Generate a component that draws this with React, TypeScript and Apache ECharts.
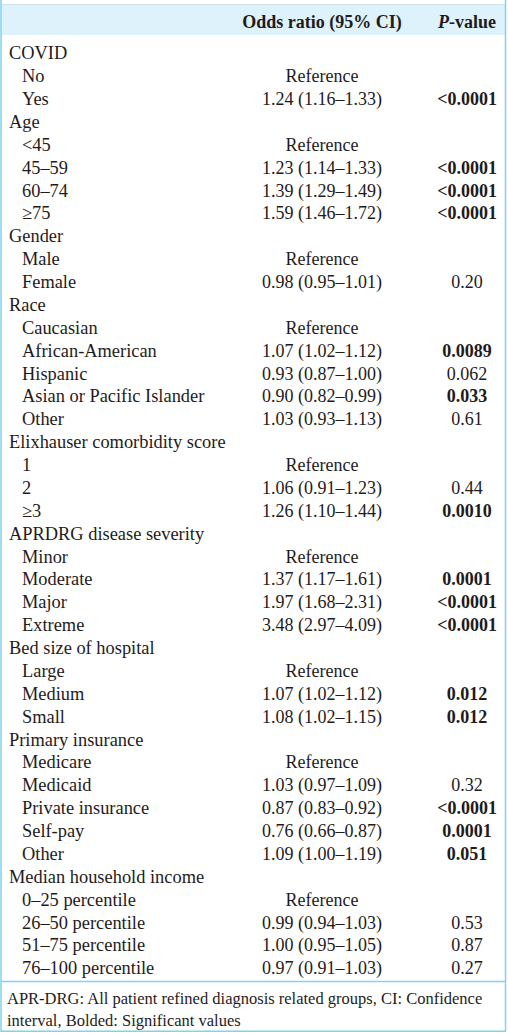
import React, { useEffect, useRef } from "react";
import * as echarts from "echarts";

const groups = [
  "COVID",
  "Age",
  "Gender",
  "Race",
  "Elixhauser comorbidity score",
  "APRDRG disease severity",
  "Bed size of hospital",
  "Primary insurance",
  "Median household income",
];

const levels = [
  ["No", "Yes"],
  ["<45", "45–59", "60–74", "≥75"],
  ["Male", "Female"],
  ["Caucasian", "African-American", "Hispanic", "Asian or Pacific Islander", "Other"],
  ["1", "2", "≥3"],
  ["Minor", "Moderate", "Major", "Extreme"],
  ["Large", "Medium", "Small"],
  ["Medicare", "Medicaid", "Private insurance", "Self-pay", "Other"],
  ["0–25 percentile", "26–50 percentile", "51–75 percentile", "76–100 percentile"],
];

const oddsRatios = [
  [null, 1.24],
  [null, 1.23, 1.39, 1.59],
  [null, 0.98],
  [null, 1.07, 0.93, 0.9, 1.03],
  [null, 1.06, 1.26],
  [null, 1.37, 1.97, 3.48],
  [null, 1.07, 1.08],
  [null, 1.03, 0.87, 0.76, 1.09],
  [null, 0.99, 1.0, 0.97],
];

const ciLower = [
  [null, 1.16],
  [null, 1.14, 1.29, 1.46],
  [null, 0.95],
  [null, 1.02, 0.87, 0.82, 0.93],
  [null, 0.91, 1.1],
  [null, 1.17, 1.68, 2.97],
  [null, 1.02, 1.02],
  [null, 0.97, 0.83, 0.66, 1.0],
  [null, 0.94, 0.95, 0.91],
];

const ciUpper = [
  [null, 1.33],
  [null, 1.33, 1.49, 1.72],
  [null, 1.01],
  [null, 1.12, 1.0, 0.99, 1.13],
  [null, 1.23, 1.44],
  [null, 1.61, 2.31, 4.09],
  [null, 1.12, 1.15],
  [null, 1.09, 0.92, 0.87, 1.19],
  [null, 1.03, 1.05, 1.03],
];

const pValues = [
  [null, "<0.0001"],
  [null, "<0.0001", "<0.0001", "<0.0001"],
  [null, "0.20"],
  [null, "0.0089", "0.062", "0.033", "0.61"],
  [null, "0.44", "0.0010"],
  [null, "0.0001", "<0.0001", "<0.0001"],
  [null, "0.012", "0.012"],
  [null, "0.32", "<0.0001", "0.0001", "0.051"],
  [null, "0.53", "0.87", "0.27"],
];

const significant = [
  [false, true],
  [false, true, true, true],
  [false, false],
  [false, true, false, true, false],
  [false, false, true],
  [false, true, true, true],
  [false, true, true],
  [false, false, true, true, true],
  [false, false, false, false],
];

const headerOdds = "Odds ratio (95% CI)";
const referenceLabel = "Reference";
const footnoteLines = [
  "APR-DRG: All patient refined diagnosis related groups, CI: Confidence",
  "interval, Bolded: Significant values",
];

const W = 508;
const H = 1033;
const FONT = "Liberation Serif";
const TEXT = "#1f1b1c";
const BORDER = "#7fd2f1";
const HEADER_BG = "#def2fb";

export default function App() {
  const ref = useRef<HTMLDivElement>(null);

  useEffect(() => {
    if (!ref.current) return;
    const chart = echarts.init(ref.current, undefined, { renderer: "svg" });

    const fs = 18;
    const fsLabel = 18.4;
    const rowTop = 53.3;
    const rowH = 22.875;
    const xLabel = 9;
    const xIndent = 22;
    const xOdds = 322;
    const xP = 467;

    const els: any[] = [];
    els.push({
      type: "rect",
      shape: { x: 1, y: 4, width: 504.5, height: 31 },
      style: { fill: HEADER_BG },
      silent: true,
    });
    els.push({
      type: "line",
      shape: { x1: 1, y1: 4.5, x2: 505, y2: 4.5 },
      style: { stroke: "#cfe3ea", lineWidth: 1 },
    });
    els.push({ type: "line", shape: { x1: 1, y1: 0, x2: 1, y2: 1032 }, style: { stroke: BORDER, lineWidth: 1.5 } });
    els.push({ type: "line", shape: { x1: 505.5, y1: 0, x2: 505.5, y2: 1032 }, style: { stroke: BORDER, lineWidth: 1.5 } });
    els.push({ type: "line", shape: { x1: 1, y1: 981.5, x2: 505.5, y2: 981.5 }, style: { stroke: BORDER, lineWidth: 1.5 } });
    els.push({ type: "line", shape: { x1: 1, y1: 1031.3, x2: 505.5, y2: 1031.3 }, style: { stroke: BORDER, lineWidth: 1.5 } });

    els.push({
      type: "text",
      x: xOdds,
      y: 21.7,
      style: {
        text: headerOdds,
        font: `bold ${fs}px "${FONT}"`,
        fill: TEXT,
        align: "center",
        verticalAlign: "middle",
      },
    });
    els.push({
      type: "text",
      x: xP,
      y: 21.7,
      style: {
        text: "{i|P}{b|-value}",
        fill: TEXT,
        align: "center",
        verticalAlign: "middle",
        rich: {
          i: { fontFamily: FONT, fontSize: fs, fontWeight: "bold", fontStyle: "italic", fill: TEXT },
          b: { fontFamily: FONT, fontSize: fs, fontWeight: "bold", fill: TEXT },
        },
      },
    });

    const fmt = (v: number) => v.toFixed(2);
    let row = 0;
    groups.forEach((g, gi) => {
      const yG = rowTop + row * rowH;
      els.push({
        type: "text",
        x: xLabel,
        y: yG,
        style: { text: g, font: `${fsLabel}px "${FONT}"`, fill: TEXT, align: "left", verticalAlign: "middle" },
      });
      row++;
      levels[gi].forEach((lv, li) => {
        const y = rowTop + row * rowH;
        els.push({
          type: "text",
          x: xIndent,
          y,
          style: { text: lv, font: `${fsLabel}px "${FONT}"`, fill: TEXT, align: "left", verticalAlign: "middle" },
        });
        const orv = oddsRatios[gi][li];
        const lo = ciLower[gi][li];
        const hi = ciUpper[gi][li];
        const oddsText =
          orv == null ? referenceLabel : `${fmt(orv)} (${fmt(lo as number)}–${fmt(hi as number)})`;
        els.push({
          type: "text",
          x: xOdds,
          y,
          style: { text: oddsText, font: `${fs}px "${FONT}"`, fill: TEXT, align: "center", verticalAlign: "middle" },
        });
        const p = pValues[gi][li];
        if (p != null) {
          els.push({
            type: "text",
            x: xP,
            y,
            style: {
              text: p,
              font: `${significant[gi][li] ? "bold " : ""}${fs}px "${FONT}"`,
              fill: TEXT,
              align: "center",
              verticalAlign: "middle",
            },
          });
        }
        row++;
      });
    });

    footnoteLines.forEach((t, i) => {
      els.push({
        type: "text",
        x: 7,
        y: 998.3 + i * 21.7,
        style: { text: t, font: `16.5px "${FONT}"`, fill: TEXT, align: "left", verticalAlign: "middle" },
      });
    });

    chart.setOption({
      animation: false,
      backgroundColor: "#ffffff",
      graphic: { elements: els },
    });

    return () => chart.dispose();
  }, []);

  return (
    <div
      ref={ref}
      style={{ position: "absolute", left: 0, top: 0, width: W, height: H }}
    />
  );
}
